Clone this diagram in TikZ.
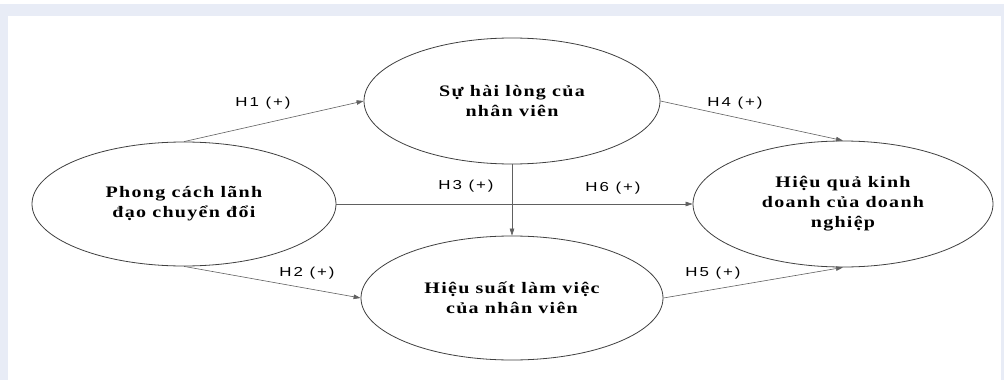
\documentclass[tikz,border=0pt]{standalone}
\usepackage{fontspec}
\setmainfont{Liberation Serif}
\newfontfamily\lblfont[FakeStretch=1.3,LetterSpace=15]{Liberation Sans}
\newfontfamily\elfont[FakeStretch=1.25,LetterSpace=8]{Liberation Serif}
\usetikzlibrary{shapes.geometric,arrows.meta}
\definecolor{framebg}{HTML}{E8ECF6}
\definecolor{edgecol}{HTML}{404040}
\definecolor{arrcol}{HTML}{606060}
\begin{document}
\begin{tikzpicture}[x=1pt,y=-1pt,
  construct/.style={ellipse, draw=edgecol, line width=0.8pt, inner sep=0pt, align=center,
    font=\elfont\bfseries\fontsize{16}{20}\selectfont},
  link/.style={draw=arrcol, line width=0.6pt, -{Triangle[length=7pt,width=4.5pt]}},
  hlabel/.style={inner sep=0pt, font=\lblfont\fontsize{13}{15}\selectfont}]
\fill[white] (0,0) rectangle (1004,380);
\fill[framebg] (0,4) rectangle (1004,380);
\fill[white] (8,16) rectangle (1000.5,380);
\useasboundingbox (0,0) rectangle (1004,380);

\node[construct, minimum width=304pt, minimum height=124pt] (lead) at (184,204) {Phong cách lãnh\\đạo chuyển đổi};
\node[construct, minimum width=296pt, minimum height=126pt] (sat) at (512,101) {Sự hài lòng của\\nhân viên};
\node[construct, minimum width=302pt, minimum height=124pt] (perf) at (512,298) {Hiệu suất làm việc\\của nhân viên};
\node[construct, minimum width=300pt, minimum height=126pt] (biz) at (843,204) {Hiệu quả kinh\\doanh của doanh\\nghiệp};

\draw[link] (lead.north) -- (sat.west);
\draw[link] (lead.south) -- (perf.west);
\draw[link] (sat.south) -- (perf.north);
\draw[link] (sat.east) -- (biz.north);
\draw[link] (perf.east) -- (biz.south);
\draw[link] (lead.east) -- (biz.west);

\node[hlabel] (h1) at (263,103) {H1 (+)};
\node[hlabel] (h2) at (307,273) {H2 (+)};
\node[hlabel] (h3) at (466,186) {H3 (+)};
\node[hlabel] (h4) at (735,103) {H4 (+)};
\node[hlabel] (h5) at (713,273) {H5 (+)};
\node[hlabel] (h6) at (613,188) {H6 (+)};
\end{tikzpicture}
\end{document}
